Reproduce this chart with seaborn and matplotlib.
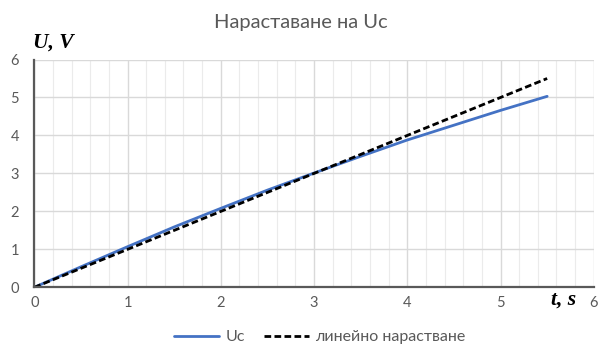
import matplotlib
matplotlib.use("Agg")
import matplotlib.pyplot as plt
import seaborn as sns
import pandas as pd
from matplotlib.ticker import MultipleLocator
from matplotlib.lines import Line2D

# data
t_uc = [0, 0.5, 1, 1.5, 2, 2.5, 3, 3.5, 4, 4.5, 5, 5.5]
uc = [0, 0.54, 1.07, 1.59, 2.08, 2.56, 3.01, 3.45, 3.88, 4.27, 4.66, 5.03]
t_lin = [0, 5.5]
u_lin = [0, 5.5]
title = "Нараставане на Uc"
series_names = ["Uc", "линейно нарастване"]

sns.set_theme(style="white")
plt.rcParams['font.family'] = ['Lato', 'DejaVu Sans']

fig = plt.figure(figsize=(6.01, 3.5), dpi=100)
ax = fig.add_axes([0.057, 0.179, 0.931, 0.651])

df_uc = pd.DataFrame({"t": t_uc, "u": uc})
df_lin = pd.DataFrame({"t": t_lin, "u": u_lin})

blue = "#4472C4"
dash = (0, (2.4, 1.2))
sns.lineplot(data=df_uc, x="t", y="u", ax=ax, color=blue, linewidth=2.0, zorder=3)
sns.lineplot(data=df_lin, x="t", y="u", ax=ax, color="black", linewidth=2.0,
             linestyle=dash, zorder=4)

ax.set_xlim(0, 6)
ax.set_ylim(0, 6)
ax.xaxis.set_major_locator(MultipleLocator(1))
ax.xaxis.set_minor_locator(MultipleLocator(0.2))
ax.yaxis.set_major_locator(MultipleLocator(1))

ax.grid(True, which="major", axis="both", color="#d9d9d9", linewidth=1.0, zorder=0)
ax.grid(True, which="minor", axis="x", color="#ebebeb", linewidth=0.8, zorder=0)
ax.set_axisbelow(True)

for s in ["top", "right"]:
    ax.spines[s].set_visible(False)
for s in ["left", "bottom"]:
    ax.spines[s].set_color("#595959")
    ax.spines[s].set_linewidth(1.6)
    ax.spines[s].set_zorder(5)

ax.tick_params(axis="both", which="both", length=0, labelsize=10.5, labelcolor="#595959")
ax.tick_params(axis="x", pad=6)
ax.tick_params(axis="y", pad=11)
ax.set_xlabel("")
ax.set_ylabel("")

fig.text(0.5, 0.937, title, ha="center", va="center", fontsize=14.5, color="#595959")

fig.text(53 / 601, 1 - 43 / 350, "U, V", ha="center", va="center", fontsize=15.5,
         family="Liberation Serif", fontweight="bold", fontstyle="italic", color="black")
fig.text(564 / 601, 1 - 300 / 350, "t, s", ha="center", va="center", fontsize=15.5,
         family="Liberation Serif", fontweight="bold", fontstyle="italic", color="black")

handles = [Line2D([0], [0], color=blue, linewidth=2.0),
           Line2D([0], [0], color="black", linewidth=2.0, linestyle=dash)]
leg = fig.legend(handles, series_names, loc="center", bbox_to_anchor=(0.532, 1 - 337 / 350),
                 ncol=2, frameon=False, fontsize=11.5, handlelength=2.8, columnspacing=1.2,
                 handletextpad=0.4)
for txt in leg.get_texts():
    txt.set_color("#595959")

fig.savefig("out.png", dpi=100)
